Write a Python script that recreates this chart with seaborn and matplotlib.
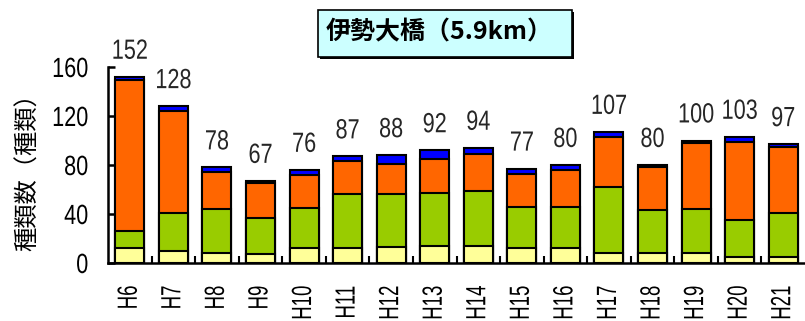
import numpy as np
import pandas as pd
import matplotlib
matplotlib.use("Agg")
import matplotlib.pyplot as plt
import seaborn as sns
from matplotlib.patches import Rectangle
from matplotlib.ticker import FixedLocator
from matplotlib.patheffects import AbstractPathEffect
from matplotlib.transforms import Affine2D

# Species counts per survey year, stacked from bottom to top
years = ["H6", "H7", "H8", "H9", "H10", "H11", "H12", "H13",
         "H14", "H15", "H16", "H17", "H18", "H19", "H20", "H21"]
layer_yellow = [12, 10, 8, 7, 12, 12, 13, 14, 14, 12, 12, 8, 8, 8, 5, 5]
layer_green = [14, 31, 36, 30, 33, 44, 43, 43, 45, 34, 34, 54, 35, 36, 30, 36]
layer_orange = [123, 83, 30, 28, 27, 27, 25, 28, 30, 27, 30, 41, 35, 54, 64, 54]
layer_blue = [3, 4, 4, 2, 4, 4, 7, 7, 5, 4, 4, 4, 2, 2, 4, 2]
y_ticks = [0, 40, 80, 120, 160]

title_text = "伊勢大橋（5.9km）"
ylabel_text = "種類数（種類）"


class Squeeze(AbstractPathEffect):
    """Narrow the glyphs along the baseline, keeping one end of the text fixed."""

    def __init__(self, sx, anchor="center"):
        super().__init__()
        self.sx = sx
        self.anchor = anchor

    def draw_path(self, renderer, gc, tpath, affine, rgbFace=None):
        ext = tpath.get_extents()
        if self.anchor == "right":
            x0 = ext.x1
        elif self.anchor == "left":
            x0 = ext.x0
        else:
            x0 = 0.5 * (ext.x0 + ext.x1)
        t = Affine2D().translate(-x0, 0).scale(self.sx, 1).translate(x0, 0) + affine
        renderer.draw_path(gc, tpath, t, rgbFace)


sns.set_theme(style="ticks")
plt.rcParams["font.family"] = ["Noto Sans CJK JP", "DejaVu Sans"]
latin = ["Liberation Sans", "DejaVu Sans"]

df = pd.DataFrame({
    "year": years,
    "yellow": layer_yellow,
    "green": layer_green,
    "orange": layer_orange,
    "blue": layer_blue,
})
df["c1"] = df["yellow"]
df["c2"] = df["c1"] + df["green"]
df["c3"] = df["c2"] + df["orange"]
df["c4"] = df["c3"] + df["blue"]

W, H = 805, 321
fig = plt.figure(figsize=(W / 100, H / 100), dpi=100)
ax = fig.add_axes([108 / W, 1 - 263 / H, (W - 108) / W, (263 - 67) / H])

# Draw cumulative heights from the top layer down so the stack shows
layers = [("c4", "#0000FF"), ("c3", "#FF6600"), ("c2", "#99CC00"), ("c1", "#FFFF99")]
for col, color in layers:
    sns.barplot(data=df, x="year", y=col, color=color, saturation=1,
                width=0.665, edgecolor="black", linewidth=1.5,
                errorbar=None, ax=ax, zorder=2)

# Totals above each bar
for i, total in enumerate(df["c4"]):
    ax.annotate(str(total), (i, total), xytext=(0, 13), textcoords="offset points",
                ha="center", va="baseline", fontsize=20, family=latin,
                annotation_clip=False, path_effects=[Squeeze(0.78, "center")])

ax.set_xlim(-0.5, len(years) - 0.5)
ax.set_ylim(0, 160)
ax.set_yticks(y_ticks)
ax.set_yticklabels([str(v) for v in y_ticks], family=latin, fontsize=20)
ax.set_xlabel("")
ax.set_ylabel("")

sns.despine(ax=ax)
for side in ("left", "bottom"):
    ax.spines[side].set_color("black")
    ax.spines[side].set_linewidth(1.8)
    ax.spines[side].set_zorder(3)

ax.tick_params(axis="y", direction="in", length=5, width=1.8, pad=14,
               color="black", labelcolor="black", left=True)
ax.tick_params(axis="x", which="major", length=0, pad=16, labelrotation=90,
               labelsize=20, labelcolor="black")
for lab in ax.get_xticklabels():
    lab.set_family(latin)
    lab.set_path_effects([Squeeze(0.67, "right")])
for lab in ax.get_yticklabels():
    lab.set_path_effects([Squeeze(0.78, "right")])
ax.xaxis.set_minor_locator(FixedLocator(np.arange(0.5, len(years) - 1, 1.0)))
ax.tick_params(axis="x", which="minor", direction="in", length=5, width=1.5,
               color="black", bottom=True)

# Y-axis caption
fig.text(28 / W, 1 - 166 / H, ylabel_text, rotation=90, ha="center", va="center",
         fontsize=17.5, color="black")

# Title box with a drop shadow
fig.patches.append(Rectangle((320 / W, 1 - 59 / H), 254 / W, 47 / H,
                             transform=fig.transFigure, facecolor="black",
                             edgecolor="black", linewidth=0, zorder=5))
fig.patches.append(Rectangle((318 / W, 1 - 57 / H), 254 / W, 47 / H,
                             transform=fig.transFigure, facecolor="#CCFFFF",
                             edgecolor="black", linewidth=1.2, zorder=6))
fig.text(439 / W, 1 - 32 / H, title_text, ha="center", va="center",
         fontsize=18, fontweight="bold", color="black", zorder=7)

fig.savefig("out.png", dpi=100)
